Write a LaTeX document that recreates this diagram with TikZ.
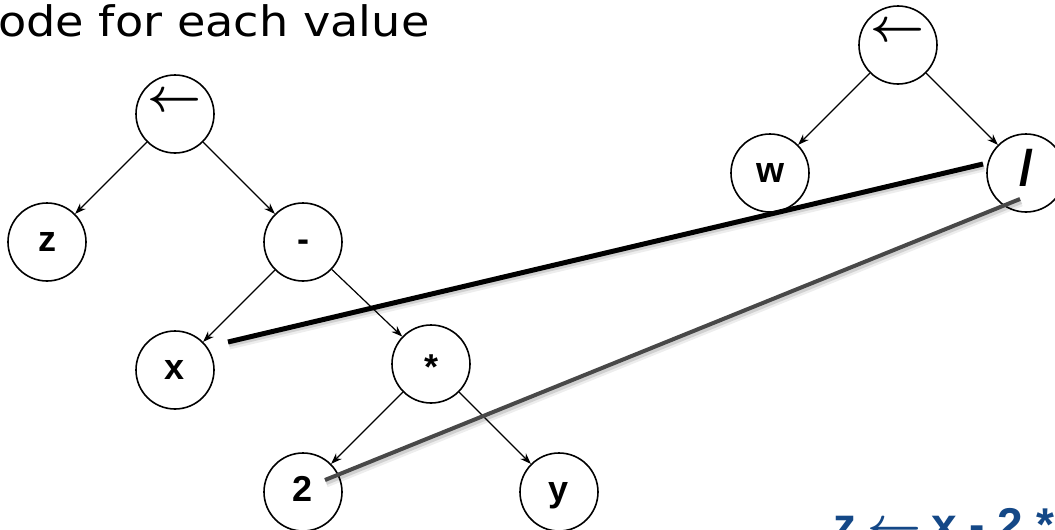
\documentclass[tikz,border=0pt]{standalone}
\usepackage{fontspec}
\setmainfont{Liberation Sans}
\newfontfamily\titlefont{DejaVu Sans}
\usetikzlibrary{arrows.meta}

\definecolor{exprblue}{RGB}{20,72,135}
\definecolor{linkgray}{RGB}{72,72,72}

% the assignment arrow, drawn large from the 10pt math font
\newcommand{\bigassign}{{\fontsize{10}{12}\selectfont\scalebox{4.7}{\boldmath$\leftarrow$}}}

\begin{document}
\begin{tikzpicture}[x=1pt,y=-1pt,
  vnode/.style={circle,draw,line width=1.6pt,minimum size=78pt,inner sep=0pt,
    text height=18.7pt,text depth=0pt,
    font=\fontsize{36}{36}\selectfont\bfseries},
  assign/.style={circle,draw,line width=1.6pt,minimum size=78pt,inner sep=0pt},
  edge/.style={line width=1.2pt,-{Stealth[length=11pt,width=8pt]}},
  shade1/.style={draw=black,opacity=.07,line width=9pt,
    transform canvas={shift={(1pt,-3pt)}}},
  shade2/.style={draw=black,opacity=.12,line width=6pt,
    transform canvas={shift={(1pt,-2pt)}}},
  dagblack/.style={draw=black,line width=5pt},
  daggray/.style={draw=linkgray,line width=4pt},
]
\useasboundingbox[fill=white] (0,0) rectangle (1055,530);

% heading
\node[anchor=base west,inner sep=0pt] (title) at (-2,36)
  {\titlefont\fontsize{42}{42}\selectfont\scalebox{1.1}[1]{ode for each value}};

% tree for z <- x - 2 * y
\node[assign] (a)   at (175,114) {\smash{\raisebox{3pt}{\bigassign}}};
\node[vnode]  (z)   at (47,242)  {z};
\node[vnode]  (m)   at (303,242) {-};
\node[vnode]  (x)   at (175,370) {x};
\node[vnode]  (s)   at (431,364) {\raisebox{-6pt}{*}};
\node[vnode]  (two) at (303,492) {2};
\node[vnode]  (y)   at (559,492) {y};

\draw[edge] (a) -- (z);
\draw[edge] (a) -- (m);
\draw[edge] (m) -- (x);
\draw[edge] (m) -- (s);
\draw[edge] (s) -- (two);
\draw[edge] (s) -- (y);

% tree for w <- x / 2
\node[assign] (b) at (898,45)  {\smash{\raisebox{3pt}{\bigassign}}};
\node[vnode]  (w) at (770,173) {w};
\node[vnode,font=\fontsize{50}{50}\selectfont\bfseries] (d) at (1026,173)
  {\raisebox{-3pt}{/}};

\draw[edge] (b) -- (w);
\draw[edge] (b) -- (d);

% links from the divide node to shared values
\coordinate (xs) at ([shift={(53,-28)}]x.center);
\coordinate (de) at ([shift={(-43,-9)}]d.center);
\coordinate (ts) at ([shift={(22,-12)}]two.center);
\coordinate (dg) at ([shift={(-6,26)}]d.center);

\draw[shade1] (xs) -- (de);
\draw[shade2] (xs) -- (de);
\draw[shade1] (ts) -- (dg);
\draw[shade2] (ts) -- (dg);
\draw[dagblack] (xs) -- (de);
\draw[daggray] (ts) -- (dg);

% expression
\node[anchor=base west,inner sep=0pt,text=exprblue,
  font=\fontsize{46}{46}\selectfont\bfseries] (expr) at (833,540)
  {z\hspace{11pt}\bigassign\hspace{10pt}x - 2 *};
\end{tikzpicture}
\end{document}
